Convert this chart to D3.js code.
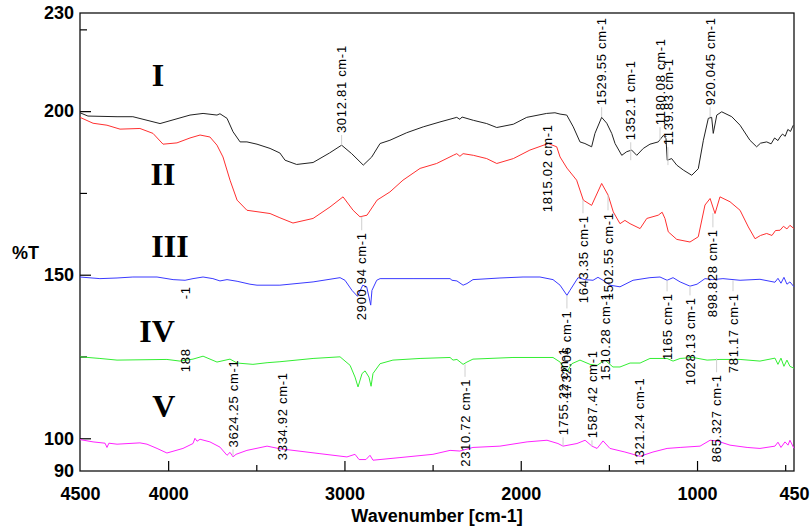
<!DOCTYPE html>
<html>
<head>
<meta charset="utf-8">
<script src="https://cdn.jsdelivr.net/npm/d3@7"></script>
<style>
  body { margin: 0; background: #fff; }
  .axis text { font-family: "Liberation Sans", Arial, sans-serif; font-weight: bold; font-size: 18px; fill: #000; }
  .axis path { display: none; }
  .axis line { stroke: #000; stroke-width: 1.2; }
  .peak { font-family: "Liberation Sans", Arial, sans-serif; font-size: 13px; letter-spacing: 0.7px; fill: #000; }
  .roman { font-family: "Liberation Serif", "Times New Roman", serif; font-weight: bold; font-size: 32px; fill: #000; }
</style>
</head>
<body>
<svg id="ftir" width="811" height="531"></svg>
<script>
// spectra: [wavenumber cm-1, %T]
const spectrumI = [
  [4500,199.5],[4455,198.5],[4290,198.3],[4200,198.3],[4046,196.2],[3876,198.8],[3802,199.3],
  [3723,198.8],[3706,199.2],[3666,197.8],[3632,193.7],[3592,190.6],[3553,190.6],[3496,189.9],
  [3422,188.6],[3366,187.2],[3337,185.0],[3271,183.7],[3178,184.3],[3085,187.2],[3016,189.6],
  [2959,187.0],[2893,183.5],[2845,186.0],[2798,190.1],[2742,191.1],[2647,193.4],[2553,195.2],
  [2458,196.7],[2363,198.1],[2345,197.5],[2333,198.2],[2269,197.2],[2193,196.2],[2136,195.0],
  [2042,196.0],[1966,198.1],[1853,199.3],[1806,199.5],[1777,199.1],[1739,198.8],[1702,195.2],
  [1664,190.6],[1636,190.1],[1598,189.1],[1579,193.2],[1541,198.1],[1512,196.3],[1484,193.2],
  [1465,190.1],[1427,186.5],[1399,187.6],[1371,188.1],[1342,186.5],[1305,188.6],[1267,189.9],
  [1220,190.6],[1191,192.6],[1176,191.6],[1169,185.0],[1144,185.5],[1115,183.5],[1078,182.0],
  [1030,180.4],[993,182.4],[964,191.1],[936,197.8],[917,198.1],[908,193.2],[888,198.8],
  [860,199.8],[803,198.3],[756,195.7],[700,191.1],[662,189.1],[640,190.2],[605,190.6],
  [580,190.0],[560,191.8],[541,191.0],[529,192.1],[515,193.0],[500,192.3],[485,194.4],
  [470,193.8],[454,195.7]
];
const spectrumII = [
  [4500,198.1],[4426,196.3],[4347,195.7],[4273,194.5],[4160,194.7],[4086,193.2],[4029,189.9],
  [3950,190.3],[3876,191.8],[3819,192.7],[3763,192.1],[3723,189.6],[3689,186.0],[3649,178.9],
  [3609,172.8],[3553,169.7],[3422,168.7],[3366,167.4],[3292,165.8],[3178,167.2],[3082,170.7],
  [3008,173.8],[2951,169.7],[2912,167.7],[2872,168.2],[2815,172.8],[2742,175.3],[2668,178.9],
  [2571,182.5],[2477,184.0],[2383,186.5],[2363,187.0],[2345,186.2],[2327,187.0],[2269,186.5],
  [2193,185.5],[2136,184.0],[2042,185.5],[1948,188.1],[1844,190.1],[1796,189.1],[1777,186.0],
  [1738,182.6],[1683,178.9],[1645,172.8],[1598,171.2],[1541,177.9],[1504,174.3],[1475,169.2],
  [1437,165.6],[1409,166.6],[1380,165.6],[1323,164.1],[1285,167.2],[1220,168.2],[1198,169.1],
  [1182,167.2],[1163,163.1],[1115,160.8],[1040,160.0],[993,161.6],[955,171.3],[926,173.3],
  [898,168.7],[870,173.8],[813,172.3],[756,169.7],[709,164.6],[671,161.0],[640,162.0],
  [605,162.6],[575,162.0],[555,163.5],[529,163.6],[510,164.8],[490,164.0],[473,165.1],[450,164.1]
];
const spectrumIII = [
  [4500,149.3],[4387,148.8],[4290,149.0],[4200,149.3],[4063,149.3],[3972,148.5],[3904,148.3],
  [3859,148.8],[3802,149.3],[3746,148.8],[3706,148.1],[3666,148.5],[3609,148.0],[3536,147.1],
  [3496,146.8],[3366,146.8],[3178,147.8],[3025,149.1],[2997,148.3],[2957,145.2],[2926,143.4],
  [2896,146.8],[2874,146.3],[2861,143.2],[2851,140.7],[2844,145.2],[2817,148.3],[2798,148.8],
  [2611,148.8],[2401,148.8],[2390,148.3],[2362,148.1],[2327,146.8],[2305,147.3],[2271,148.5],
  [2118,149.0],[1987,149.3],[1891,149.3],[1817,148.5],[1777,146.8],[1738,143.7],[1721,145.2],
  [1675,149.1],[1636,148.5],[1590,148.3],[1562,149.2],[1533,148.3],[1494,146.8],[1437,146.3],
  [1363,148.3],[1267,149.1],[1210,149.3],[1170,148.3],[1136,149.1],[1096,147.8],[1040,146.5],
  [1000,147.1],[955,148.8],[910,148.5],[853,148.8],[756,148.3],[643,148.6],[558,147.7],
  [541,148.9],[524,147.4],[507,149.2],[490,147.1],[473,147.8],[450,146.3]
];
const spectrumIV = [
  [4500,124.9],[4387,124.4],[4290,123.9],[4007,124.1],[3933,123.6],[3859,124.2],[3802,125.1],
  [3723,123.3],[3649,124.2],[3609,123.0],[3519,122.6],[3439,123.1],[3366,123.4],[3178,124.4],
  [3025,124.9],[2968,122.3],[2940,118.7],[2923,115.7],[2900,119.8],[2883,120.6],[2861,118.7],
  [2849,115.9],[2838,119.8],[2798,122.8],[2725,123.9],[2571,124.4],[2401,124.7],[2384,123.9],
  [2362,124.1],[2327,122.6],[2305,123.3],[2271,124.2],[2044,124.7],[1817,124.7],[1777,123.3],
  [1738,120.3],[1710,122.8],[1664,123.9],[1607,122.6],[1567,122.3],[1522,123.9],[1477,121.8],
  [1437,121.8],[1380,123.0],[1323,123.0],[1267,124.4],[1170,124.4],[1136,123.6],[1096,124.4],
  [1023,124.7],[943,123.9],[870,124.1],[756,124.1],[643,123.6],[558,124.5],[541,122.6],
  [524,124.5],[507,122.0],[490,123.9],[473,122.0],[450,121.4]
];
const spectrumV = [
  [4500,99.6],[4426,98.9],[4358,98.5],[4347,97.2],[4336,98.5],[4290,98.2],[4160,98.6],
  [4120,98.2],[4063,96.9],[4007,95.5],[3916,96.9],[3859,98.4],[3848,100.0],[3836,99.1],
  [3819,99.7],[3763,98.9],[3706,97.3],[3666,94.8],[3649,95.7],[3632,94.3],[3615,95.1],
  [3553,96.3],[3439,97.6],[3366,96.8],[3139,95.3],[2986,94.3],[2940,95.1],[2917,93.5],
  [2878,93.5],[2855,94.8],[2838,93.3],[2685,94.1],[2498,95.1],[2401,96.3],[2345,96.1],
  [2271,97.2],[2118,97.6],[1964,98.9],[1851,99.4],[1789,98.4],[1760,97.6],[1681,98.4],
  [1635,99.4],[1596,97.6],[1567,96.9],[1533,99.2],[1494,96.9],[1409,95.8],[1323,94.5],
  [1250,95.8],[1170,96.9],[1096,97.2],[983,97.6],[926,99.4],[887,99.2],[813,97.9],
  [716,97.2],[643,96.9],[558,97.6],[541,98.8],[524,97.2],[501,98.9],[484,97.9],[473,99.4],[450,96.9]
];

const seriesNames = ["I", "II", "III", "IV", "V"];
const seriesColors = ["#222222", "#ff3030", "#3a3aff", "#33ee33", "#ff22ff"];
// where each roman numeral sits: [wavenumber, %T at baseline]
const romanPos = [[4058,207.6],[4029,177.4],[3990,155.4],[4063,129.4],[4024,106.4]];

// peak annotations: position (cm-1), %T where the text starts, %T of the curve it points at
const peakLabels = [
  { text: "3012.81 cm-1", wn: 3016, from: 193.3, tip: 189.6 },
  { text: "1529.55 cm-1", wn: 1541, from: 201.8, tip: 198.2 },
  { text: "1352.1 cm-1",  wn: 1376, from: 191.1, tip: 185.0 },
  { text: "1180.08 cm-1", wn: 1210, from: 195.7, tip: 191.1 },
  { text: "1139.83 cm-1", wn: 1165, from: 189.6, tip: 183.5 },
  { text: "920.045 cm-1", wn: 926,  from: 201.8, tip: 198.2 },
  { text: "1815.02 cm-1", wn: 1846, from: 169.1, tip: null },
  { text: "1643.35 cm-1", wn: 1647, from: 141.3, tip: 172.8 },
  { text: "1502.55 cm-1", wn: 1505, from: 142.2, tip: 174.3 },
  { text: "898.828 cm-1", wn: 910,  from: 137.0, tip: 168.8 },
  { text: "2900.94 cm-1", wn: 2902, from: 136.1, tip: 167.7 },
  { text: "1732.06 cm-1", wn: 1738, from: 112.2, tip: 143.7 },
  { text: "1165 cm-1",    wn: 1170, from: 123.9, tip: 148.3 },
  { text: "1028.13 cm-1", wn: 1040, from: 116.2, tip: 146.5 },
  { text: "781.17 cm-1",  wn: 796,  from: 119.9, tip: 148.3 },
  { text: "1755.22 cm-1", wn: 1760, from: 100.9, tip: 97.6 },
  { text: "1587.42 cm-1", wn: 1596, from: 100.0, tip: 97.6 },
  { text: "1510.28 cm-1", wn: 1522, from: 117.7, tip: null },
  { text: "188",          wn: 3904, from: 120.2, tip: null },
  { text: "-1",           wn: 3900, from: 142.5, tip: null },
  { text: "3624.25 cm-1", wn: 3632, from: 97.2,  tip: 94.5 },
  { text: "3334.92 cm-1", wn: 3349, from: 93.3,  tip: null },
  { text: "2310.72 cm-1", wn: 2316, from: 91.3,  tip: 122.6 },
  { text: "1321.24 cm-1", wn: 1329, from: 91.7,  tip: null },
  { text: "865.327 cm-1", wn: 889,  from: 92.7,  tip: 124.4 }
];

const xMajor = [4000, 3000, 2000, 1000];
const xMinor = [3500, 2500, 1500, 500];
const xLabels = [4500, 4000, 3000, 2000, 1000, 450];
const yMajor = [100, 150, 200];
const yMinor = [125, 175, 225];
const yLabels = [230, 200, 150, 100, 90];

const plotLeft = 80, plotRight = 794, plotTop = 13, plotBottom = 471;

const x = d3.scaleLinear().domain([4500, 450]).range([plotLeft, plotRight]);
const y = d3.scaleLinear().domain([90, 230]).range([plotBottom, plotTop]);

const svg = d3.select("#ftir");

// tick marks, pointing into the plot
svg.append("g").attr("class", "axis").attr("transform", `translate(0,${plotBottom})`)
  .call(d3.axisBottom(x).tickValues(xMajor).tickSize(-10).tickFormat(""));
svg.append("g").attr("class", "axis").attr("transform", `translate(0,${plotBottom})`)
  .call(d3.axisBottom(x).tickValues(xMinor).tickSize(-6).tickFormat(""));
svg.append("g").attr("class", "axis").attr("transform", `translate(${plotLeft},0)`)
  .call(d3.axisLeft(y).tickValues(yMajor).tickSize(-11).tickFormat(""));
svg.append("g").attr("class", "axis").attr("transform", `translate(${plotLeft},0)`)
  .call(d3.axisLeft(y).tickValues(yMinor).tickSize(-7).tickFormat(""));

// tick labels
svg.append("g").attr("class", "axis").attr("transform", `translate(0,${plotBottom})`)
  .call(d3.axisBottom(x).tickValues(xLabels).tickSize(0).tickPadding(16).tickFormat(d3.format("d")));
svg.append("g").attr("class", "axis").attr("transform", `translate(${plotLeft},0)`)
  .call(d3.axisLeft(y).tickValues(yLabels).tickSize(0).tickPadding(6).tickFormat(d3.format("d")));

svg.append("rect")
  .attr("x", plotLeft).attr("y", plotTop)
  .attr("width", plotRight - plotLeft).attr("height", plotBottom - plotTop)
  .attr("fill", "none").attr("stroke", "#111").attr("stroke-width", 1.3);

svg.append("text")
  .attr("x", (plotLeft + plotRight) / 2).attr("y", 522)
  .attr("text-anchor", "middle")
  .style("font-family", "Liberation Sans, Arial, sans-serif")
  .style("font-weight", "bold").style("font-size", "18px")
  .text("Wavenumber [cm-1]");

svg.append("text")
  .attr("x", 12).attr("y", 259)
  .style("font-family", "Liberation Sans, Arial, sans-serif")
  .style("font-weight", "bold").style("font-size", "18px")
  .text("%T");

const line = d3.line().x(d => x(d[0])).y(d => y(d[1]));

const spectra = [spectrumI, spectrumII, spectrumIII, spectrumIV, spectrumV];
svg.append("g").selectAll("path")
  .data(spectra)
  .join("path")
  .attr("d", line)
  .attr("fill", "none")
  .attr("stroke", (d, i) => seriesColors[i])
  .attr("stroke-width", 1);

svg.append("g").selectAll("text")
  .data(seriesNames)
  .join("text")
  .attr("class", "roman")
  .attr("x", (d, i) => x(romanPos[i][0]))
  .attr("y", (d, i) => y(romanPos[i][1]))
  .attr("text-anchor", "middle")
  .text(d => d);

// peak labels with faint leader lines
const leaders = svg.append("g");
const notes = svg.append("g");
peakLabels.forEach(p => {
  const px = x(p.wn), py = y(p.from);
  const t = notes.append("text")
    .attr("class", "peak")
    .attr("transform", `translate(${px},${py}) rotate(-90)`)
    .attr("dy", "0.35em")
    .text(p.text);
  if (p.tip != null) {
    const len = t.node().getComputedTextLength();
    const yt = y(p.tip);
    const end = yt > py ? py + 2 : py - len - 2;
    leaders.append("line")
      .attr("x1", px).attr("x2", px)
      .attr("y1", yt).attr("y2", end)
      .attr("stroke", "#cfcfcf").attr("stroke-width", 1);
  }
});
</script>
</body>
</html>
